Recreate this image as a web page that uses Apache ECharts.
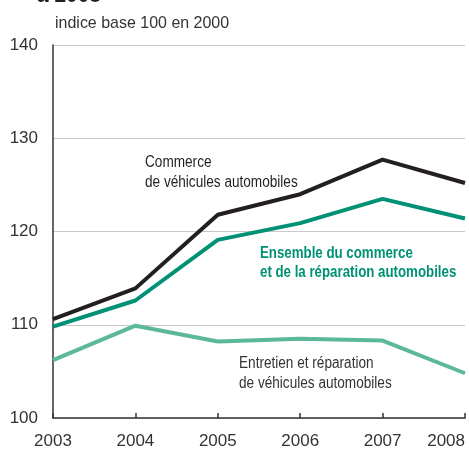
<!DOCTYPE html>
<html>
<head>
<meta charset="utf-8">
<script src="https://cdn.jsdelivr.net/npm/echarts@6/dist/echarts.min.js"></script>
<style>
  html, body { margin: 0; padding: 0; background: #fff; }
  #chart { width: 469px; height: 451px; }
</style>
</head>
<body>
<div id="chart"></div>
<script>
// indices base 100 en 2000
const years = ['2003', '2004', '2005', '2006', '2007', '2008'];
const commerceVehicules = [110.6, 113.9, 121.8, 124.0, 127.7, 125.2];
const ensemble = [109.8, 112.6, 119.1, 120.9, 123.5, 121.4];
const entretien = [106.2, 109.9, 108.2, 108.5, 108.3, 104.8];

const FONT = '"Liberation Sans", Arial, sans-serif';

const chart = echarts.init(document.getElementById('chart'));

// texte "étroit" : on comprime horizontalement
function narrow(x, y, text, font, fill, lineHeight, sx) {
  return {
    type: 'text', x: x, y: y, scaleX: sx, scaleY: 1,
    style: {text: text, font: font, fill: fill, lineHeight: lineHeight, x: 0, y: 0}
  };
}

chart.setOption({
  animation: false,
  textStyle: {fontFamily: FONT},
  grid: {left: 53, right: 4, top: 45, bottom: 33},
  xAxis: {
    type: 'category',
    data: years,
    boundaryGap: false,
    axisLine: {lineStyle: {color: '#333', width: 1.5}},
    axisTick: {inside: true, length: 5, lineStyle: {color: '#333', width: 1.5}},
    axisLabel: {fontSize: 17, color: '#333', margin: 15, fontFamily: FONT, alignMaxLabel: 'right'},
    splitLine: {show: false}
  },
  yAxis: {
    type: 'value',
    min: 100,
    max: 140,
    interval: 10,
    axisLine: {show: true, lineStyle: {color: '#333', width: 1.5}},
    axisTick: {show: false},
    axisLabel: {fontSize: 17, color: '#333', margin: 15, fontFamily: FONT},
    splitLine: {lineStyle: {color: '#c8c8c8', width: 1}}
  },
  series: [
    {
      name: 'Commerce de véhicules automobiles',
      type: 'line',
      data: commerceVehicules,
      symbol: 'none',
      lineStyle: {color: '#231f20', width: 4}
    },
    {
      name: 'Ensemble du commerce et de la réparation automobiles',
      type: 'line',
      data: ensemble,
      symbol: 'none',
      lineStyle: {color: '#009175', width: 4}
    },
    {
      name: 'Entretien et réparation de véhicules automobiles',
      type: 'line',
      data: entretien,
      symbol: 'none',
      lineStyle: {color: '#5cb89b', width: 4}
    }
  ],
  graphic: [
    narrow(37, -15, 'à 2008', 'bold 22px ' + FONT, '#231f20', 22, 0.95),
    narrow(55, 13, 'indice base 100 en 2000', '17px ' + FONT, '#333', 20, 0.94),
    narrow(145, 153, 'Commerce\nde véhicules automobiles', '16px ' + FONT, '#231f20', 20, 0.85),
    narrow(260, 244, 'Ensemble du commerce\net de la réparation automobiles', 'bold 16px ' + FONT, '#009175', 19, 0.83),
    narrow(239, 354, 'Entretien et réparation\nde véhicules automobiles', '16px ' + FONT, '#333', 20, 0.85)
  ]
});
</script>
</body>
</html>
